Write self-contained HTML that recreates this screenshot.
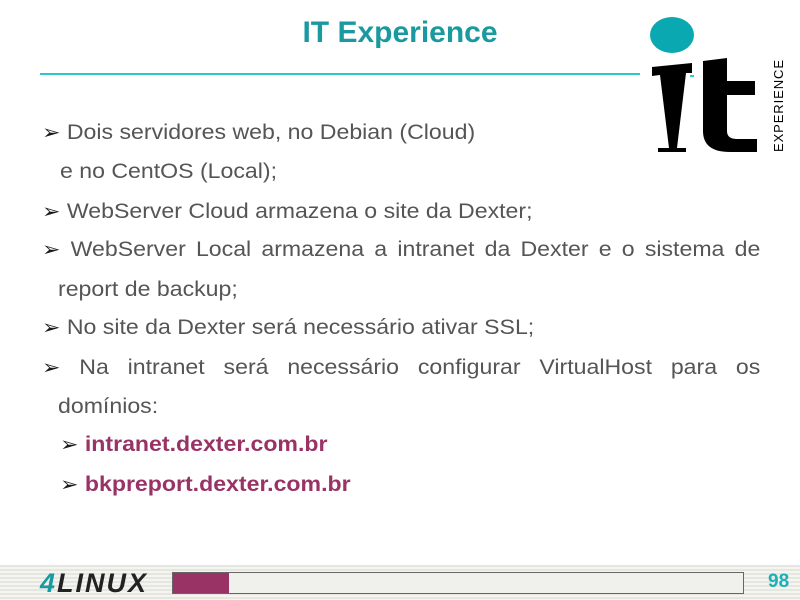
<!DOCTYPE html>
<html><head><meta charset="utf-8"><style>
body{margin:0;width:800px;height:600px;position:relative;background:#fff;font-family:"Liberation Sans",sans-serif;overflow:hidden}
.t{position:absolute;left:0;width:800px;top:16px;text-align:center;font-weight:bold;font-size:30px;color:#1a9aa0}
.l{position:absolute;font-size:21px;color:#555;white-space:nowrap;line-height:24px;transform:scaleX(1.1);transform-origin:0 0}
.j{text-align:justify;text-align-last:justify;width:653px}
.a{color:#1a1a1a;font-size:20px}
.m{color:#993366;font-weight:bold}
</style></head><body>
<div class="t">IT Experience</div>
<div style="position:absolute;left:40px;top:73px;width:600px;height:2px;background:#2ec4cc"></div>
<div style="position:absolute;left:650px;top:17px;width:44px;height:36px;border-radius:50%;background:#0aa8b0"></div>
<svg style="position:absolute;left:640px;top:55px" width="160" height="100">
<rect x="50" y="20" width="4" height="2" fill="#3cc"/>
<polygon points="12,12 52,8 52,18 46,18 37,93 46,93 46,97 18,97 18,93 29,93 20,20 12,21" fill="#000"/>
<path d="M63,6 L87,3 L87,26 L115,26 L115,40 L87,40 L87,76 Q87,84 97,84 L117,84 L117,97 L90,97 Q63,97 63,76 Z" fill="#000"/>
<text transform="translate(143,97) rotate(-90)" font-family="Liberation Sans" font-size="13" fill="#000" textLength="92" lengthAdjust="spacing">EXPERIENCE</text>
</svg>
<div class="l" style="left:42px;top:121px"><span class="a">➢</span> Dois servidores web, no Debian (Cloud)</div>
<div class="l" style="left:60px;top:160px">e no CentOS (Local);</div>
<div class="l" style="left:42px;top:200px"><span class="a">➢</span> WebServer Cloud armazena o site da Dexter;</div>
<div class="l j" style="left:42px;top:238px"><span class="a">➢</span> WebServer Local armazena a intranet da Dexter e o sistema de</div>
<div class="l" style="left:58px;top:278px">report de backup;</div>
<div class="l" style="left:42px;top:316px"><span class="a">➢</span> No site da Dexter será necessário ativar SSL;</div>
<div class="l j" style="left:42px;top:356px"><span class="a">➢</span> Na intranet será necessário configurar VirtualHost para os</div>
<div class="l" style="left:58px;top:395px">domínios:</div>
<div class="l" style="left:60px;top:433px"><span class="a">➢</span> <span class="m">intranet.dexter.com.br</span></div>
<div class="l" style="left:60px;top:473px"><span class="a">➢</span> <span class="m">bkpreport.dexter.com.br</span></div>
<div style="position:absolute;left:0;top:565px;width:800px;height:35px;background:repeating-linear-gradient(#e6e6e0 0 2px,#f4f4f0 2px 4px)"></div>
<div style="position:absolute;left:40px;top:568px;font-size:27px;font-weight:bold;font-style:italic;color:#222;letter-spacing:2px"><span style="color:#1a9aa0">4</span>LINUX</div>
<div style="position:absolute;left:172px;top:572px;width:570px;height:20px;border:1px solid #666;background:#f0f0ec"></div>
<div style="position:absolute;left:173px;top:573px;width:56px;height:20px;background:#993366"></div>
<div style="position:absolute;left:768px;top:571px;font-size:19px;font-weight:bold;color:#1ab0b8">98</div>
</body></html>
